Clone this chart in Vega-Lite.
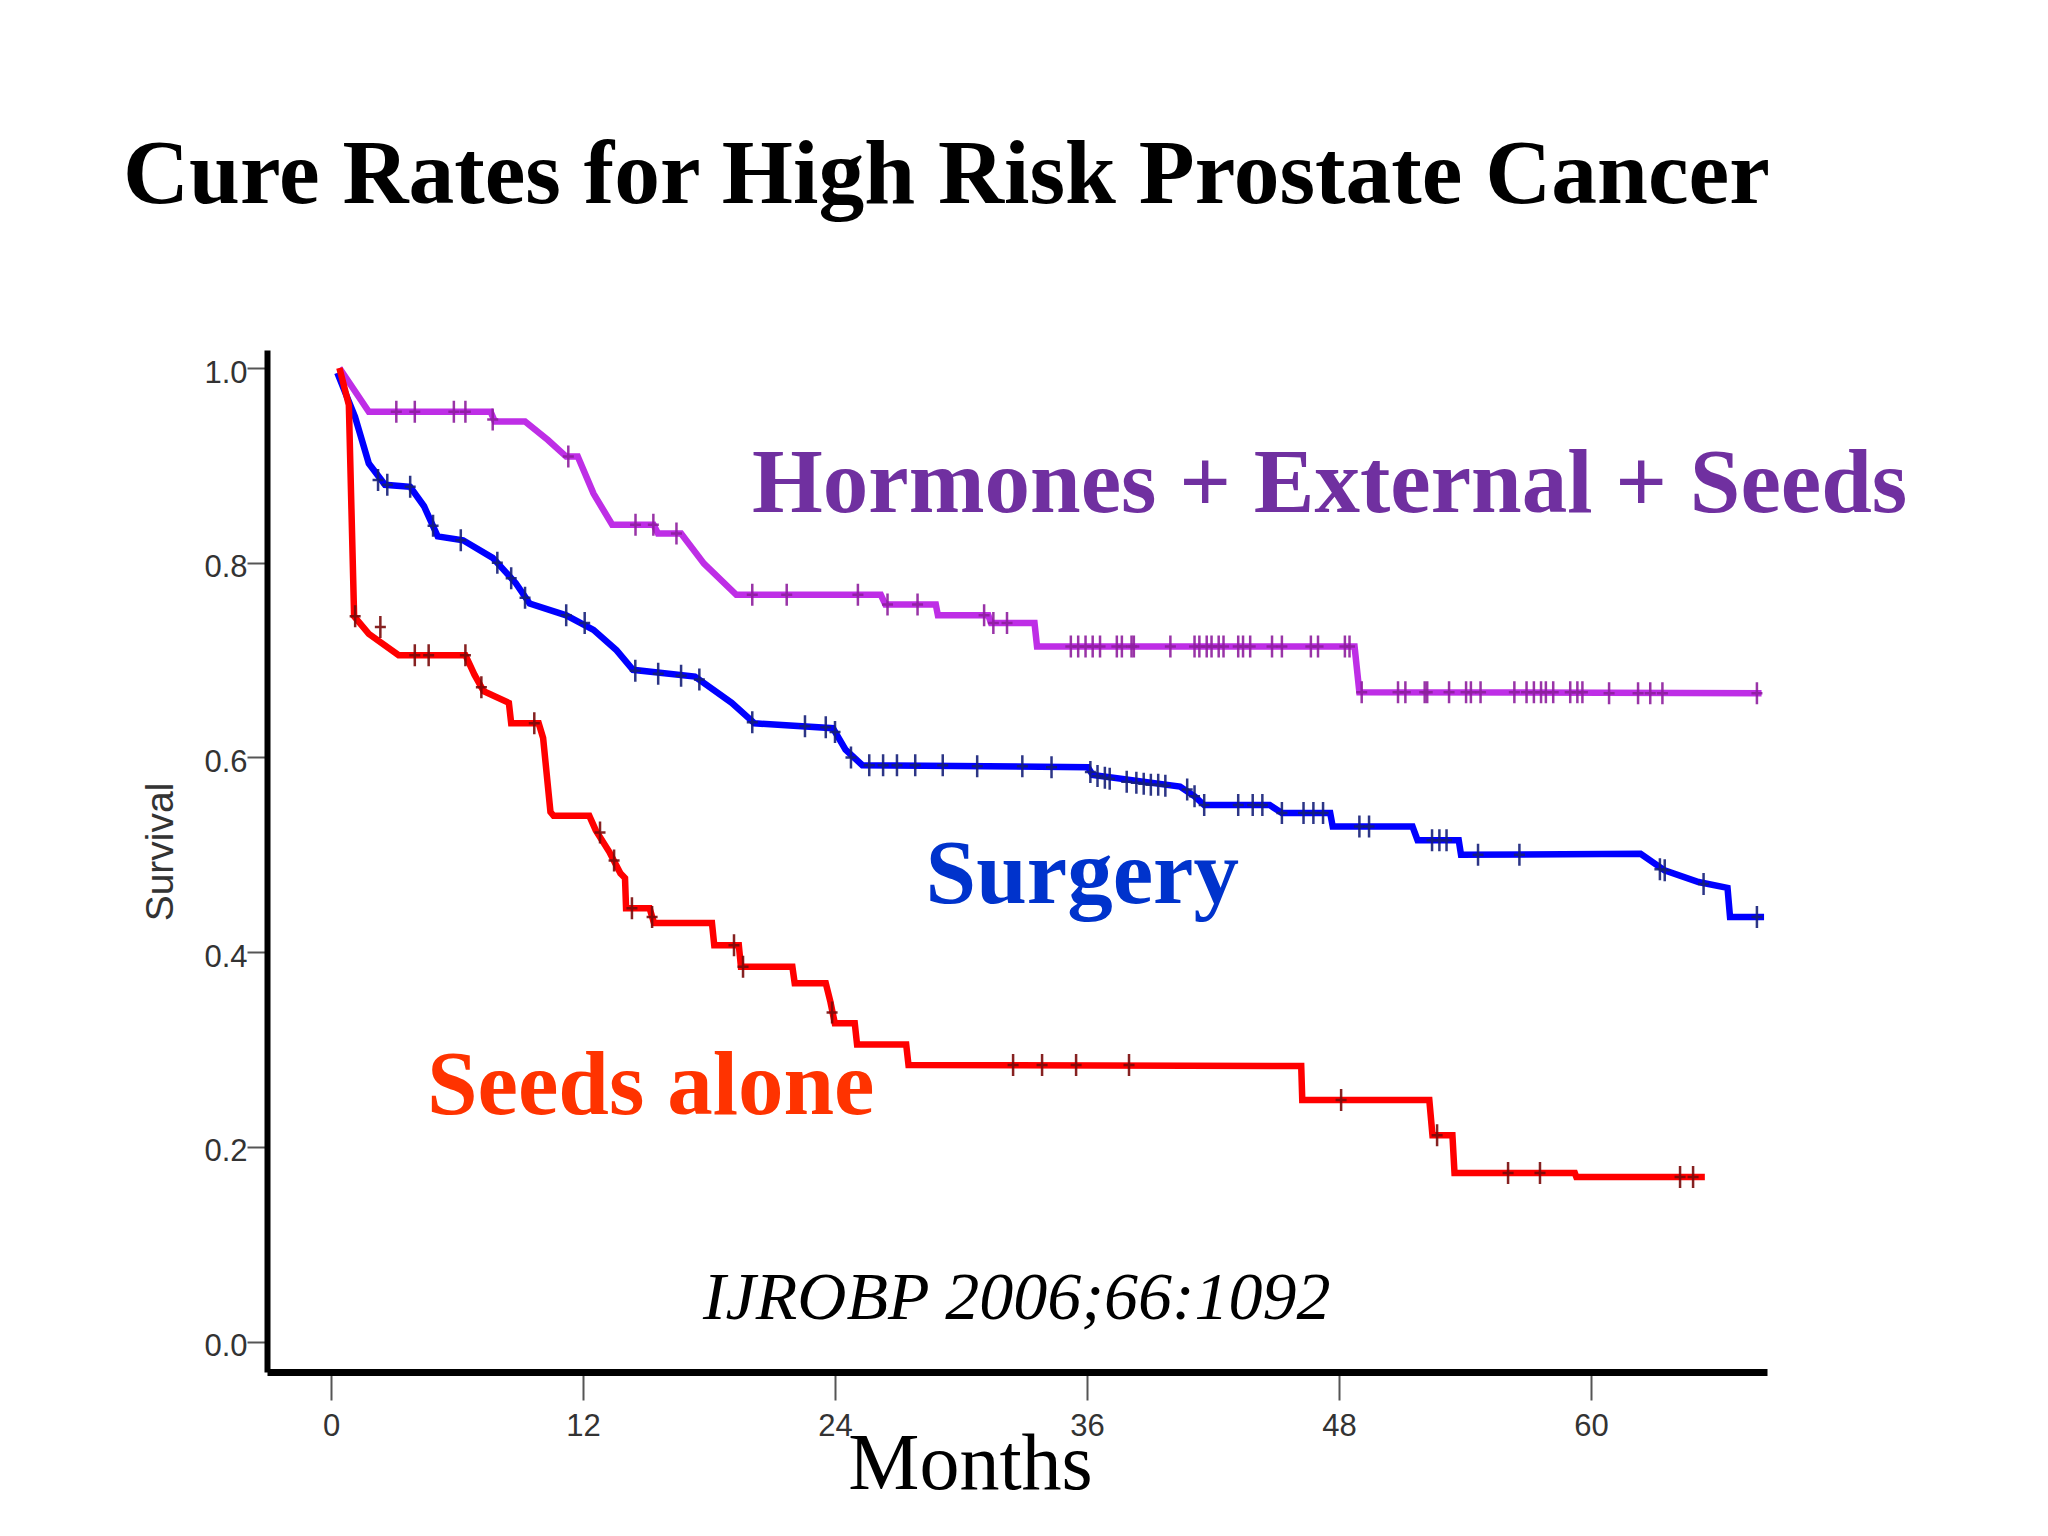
{
  "$schema": "https://vega.github.io/schema/vega-lite/v6.json",
  "description": "Kaplan-Meier style survival curves, high risk prostate cancer (IJROBP 2006;66:1092)",
  "width": 1500,
  "height": 1022,
  "autosize": {"type": "none"},
  "padding": {"left": 267, "top": 350, "right": 281, "bottom": 164},
  "background": "white",
  "title": {
    "text": "Cure Rates for High Risk Prostate Cancer",
    "anchor": "start",
    "frame": "group",
    "font": "Liberation Serif",
    "fontSize": 91.5,
    "fontWeight": "bold",
    "color": "black",
    "baseline": "alphabetic",
    "offset": 56,
    "dx": -144
  },
  "config": {
    "view": {"stroke": null},
    "axis": {"grid": false}
  },
  "datasets": {
    "curves": [
      {"group": "Hormones + External + Seeds", "k": 1, "month": 0.4, "surv": 1.0},
      {"group": "Hormones + External + Seeds", "k": 2, "month": 1.8, "surv": 0.955},
      {"group": "Hormones + External + Seeds", "k": 3, "month": 7.6, "surv": 0.955},
      {"group": "Hormones + External + Seeds", "k": 4, "month": 7.8, "surv": 0.945},
      {"group": "Hormones + External + Seeds", "k": 5, "month": 9.24, "surv": 0.945},
      {"group": "Hormones + External + Seeds", "k": 6, "month": 10.33, "surv": 0.926},
      {"group": "Hormones + External + Seeds", "k": 7, "month": 11.2, "surv": 0.909},
      {"group": "Hormones + External + Seeds", "k": 8, "month": 11.75, "surv": 0.909},
      {"group": "Hormones + External + Seeds", "k": 9, "month": 12.5, "surv": 0.871},
      {"group": "Hormones + External + Seeds", "k": 10, "month": 13.39, "surv": 0.839},
      {"group": "Hormones + External + Seeds", "k": 11, "month": 15.36, "surv": 0.839},
      {"group": "Hormones + External + Seeds", "k": 12, "month": 15.57, "surv": 0.83},
      {"group": "Hormones + External + Seeds", "k": 13, "month": 16.67, "surv": 0.83},
      {"group": "Hormones + External + Seeds", "k": 14, "month": 17.76, "surv": 0.799},
      {"group": "Hormones + External + Seeds", "k": 15, "month": 19.3, "surv": 0.767},
      {"group": "Hormones + External + Seeds", "k": 16, "month": 26.18, "surv": 0.767},
      {"group": "Hormones + External + Seeds", "k": 17, "month": 26.4, "surv": 0.757},
      {"group": "Hormones + External + Seeds", "k": 18, "month": 28.8, "surv": 0.757},
      {"group": "Hormones + External + Seeds", "k": 19, "month": 28.9, "surv": 0.746},
      {"group": "Hormones + External + Seeds", "k": 20, "month": 31.3, "surv": 0.746},
      {"group": "Hormones + External + Seeds", "k": 21, "month": 31.43, "surv": 0.738},
      {"group": "Hormones + External + Seeds", "k": 22, "month": 33.5, "surv": 0.738},
      {"group": "Hormones + External + Seeds", "k": 23, "month": 33.62, "surv": 0.714},
      {"group": "Hormones + External + Seeds", "k": 24, "month": 48.74, "surv": 0.714},
      {"group": "Hormones + External + Seeds", "k": 25, "month": 48.97, "surv": 0.667},
      {"group": "Hormones + External + Seeds", "k": 26, "month": 68.12, "surv": 0.666},

      {"group": "Surgery", "k": 1, "month": 0.3, "surv": 0.995},
      {"group": "Surgery", "k": 2, "month": 1.14, "surv": 0.95},
      {"group": "Surgery", "k": 3, "month": 1.8, "surv": 0.902},
      {"group": "Surgery", "k": 4, "month": 2.57, "surv": 0.88},
      {"group": "Surgery", "k": 5, "month": 3.77, "surv": 0.878},
      {"group": "Surgery", "k": 6, "month": 4.43, "surv": 0.858},
      {"group": "Surgery", "k": 7, "month": 5.08, "surv": 0.827},
      {"group": "Surgery", "k": 8, "month": 6.29, "surv": 0.823},
      {"group": "Surgery", "k": 9, "month": 7.7, "surv": 0.805},
      {"group": "Surgery", "k": 10, "month": 8.8, "surv": 0.779},
      {"group": "Surgery", "k": 11, "month": 9.46, "surv": 0.758},
      {"group": "Surgery", "k": 12, "month": 11.2, "surv": 0.746},
      {"group": "Surgery", "k": 13, "month": 12.5, "surv": 0.731},
      {"group": "Surgery", "k": 14, "month": 13.6, "surv": 0.71},
      {"group": "Surgery", "k": 15, "month": 14.38, "surv": 0.69},
      {"group": "Surgery", "k": 16, "month": 17.33, "surv": 0.683},
      {"group": "Surgery", "k": 17, "month": 19.08, "surv": 0.656},
      {"group": "Surgery", "k": 18, "month": 20.17, "surv": 0.635},
      {"group": "Surgery", "k": 19, "month": 23.9, "surv": 0.63},
      {"group": "Surgery", "k": 20, "month": 24.5, "surv": 0.608},
      {"group": "Surgery", "k": 21, "month": 25.3, "surv": 0.592},
      {"group": "Surgery", "k": 22, "month": 36.04, "surv": 0.59},
      {"group": "Surgery", "k": 23, "month": 36.27, "surv": 0.582},
      {"group": "Surgery", "k": 24, "month": 40.43, "surv": 0.57},
      {"group": "Surgery", "k": 25, "month": 41.12, "surv": 0.56},
      {"group": "Surgery", "k": 26, "month": 41.58, "surv": 0.551},
      {"group": "Surgery", "k": 27, "month": 44.7, "surv": 0.551},
      {"group": "Surgery", "k": 28, "month": 45.28, "surv": 0.543},
      {"group": "Surgery", "k": 29, "month": 47.58, "surv": 0.543},
      {"group": "Surgery", "k": 30, "month": 47.7, "surv": 0.529},
      {"group": "Surgery", "k": 31, "month": 51.5, "surv": 0.529},
      {"group": "Surgery", "k": 32, "month": 51.74, "surv": 0.515},
      {"group": "Surgery", "k": 33, "month": 53.7, "surv": 0.515},
      {"group": "Surgery", "k": 34, "month": 53.81, "surv": 0.5},
      {"group": "Surgery", "k": 35, "month": 62.36, "surv": 0.501},
      {"group": "Surgery", "k": 36, "month": 63.5, "surv": 0.484},
      {"group": "Surgery", "k": 37, "month": 65.12, "surv": 0.472},
      {"group": "Surgery", "k": 38, "month": 66.5, "surv": 0.466},
      {"group": "Surgery", "k": 39, "month": 66.62, "surv": 0.436},
      {"group": "Surgery", "k": 40, "month": 68.24, "surv": 0.436},

      {"group": "Seeds alone", "k": 1, "month": 0.4, "surv": 1.0},
      {"group": "Seeds alone", "k": 2, "month": 0.85, "surv": 0.962},
      {"group": "Seeds alone", "k": 3, "month": 1.1, "surv": 0.745},
      {"group": "Seeds alone", "k": 4, "month": 1.8, "surv": 0.727},
      {"group": "Seeds alone", "k": 5, "month": 3.22, "surv": 0.705},
      {"group": "Seeds alone", "k": 6, "month": 6.4, "surv": 0.705},
      {"group": "Seeds alone", "k": 7, "month": 6.83, "surv": 0.685},
      {"group": "Seeds alone", "k": 8, "month": 7.27, "surv": 0.668},
      {"group": "Seeds alone", "k": 9, "month": 8.47, "surv": 0.656},
      {"group": "Seeds alone", "k": 10, "month": 8.58, "surv": 0.635},
      {"group": "Seeds alone", "k": 11, "month": 9.89, "surv": 0.635},
      {"group": "Seeds alone", "k": 12, "month": 10.1, "surv": 0.62},
      {"group": "Seeds alone", "k": 13, "month": 10.45, "surv": 0.544},
      {"group": "Seeds alone", "k": 14, "month": 10.6, "surv": 0.54},
      {"group": "Seeds alone", "k": 15, "month": 12.3, "surv": 0.54},
      {"group": "Seeds alone", "k": 16, "month": 12.61, "surv": 0.525},
      {"group": "Seeds alone", "k": 17, "month": 13.25, "surv": 0.503},
      {"group": "Seeds alone", "k": 18, "month": 13.78, "surv": 0.481},
      {"group": "Seeds alone", "k": 19, "month": 14.0, "surv": 0.476},
      {"group": "Seeds alone", "k": 20, "month": 14.05, "surv": 0.445},
      {"group": "Seeds alone", "k": 21, "month": 15.17, "surv": 0.445},
      {"group": "Seeds alone", "k": 22, "month": 15.38, "surv": 0.43},
      {"group": "Seeds alone", "k": 23, "month": 18.14, "surv": 0.43},
      {"group": "Seeds alone", "k": 24, "month": 18.25, "surv": 0.407},
      {"group": "Seeds alone", "k": 25, "month": 19.42, "surv": 0.407},
      {"group": "Seeds alone", "k": 26, "month": 19.52, "surv": 0.385},
      {"group": "Seeds alone", "k": 27, "month": 21.97, "surv": 0.385},
      {"group": "Seeds alone", "k": 28, "month": 22.08, "surv": 0.368},
      {"group": "Seeds alone", "k": 29, "month": 23.56, "surv": 0.368},
      {"group": "Seeds alone", "k": 30, "month": 23.78, "surv": 0.349},
      {"group": "Seeds alone", "k": 31, "month": 23.99, "surv": 0.327},
      {"group": "Seeds alone", "k": 32, "month": 24.94, "surv": 0.327},
      {"group": "Seeds alone", "k": 33, "month": 25.05, "surv": 0.305},
      {"group": "Seeds alone", "k": 34, "month": 27.39, "surv": 0.305},
      {"group": "Seeds alone", "k": 35, "month": 27.5, "surv": 0.284},
      {"group": "Seeds alone", "k": 36, "month": 46.2, "surv": 0.283},
      {"group": "Seeds alone", "k": 37, "month": 46.25, "surv": 0.248},
      {"group": "Seeds alone", "k": 38, "month": 52.3, "surv": 0.248},
      {"group": "Seeds alone", "k": 39, "month": 52.45, "surv": 0.212},
      {"group": "Seeds alone", "k": 40, "month": 53.4, "surv": 0.212},
      {"group": "Seeds alone", "k": 41, "month": 53.5, "surv": 0.173},
      {"group": "Seeds alone", "k": 42, "month": 59.23, "surv": 0.173},
      {"group": "Seeds alone", "k": 43, "month": 59.3, "surv": 0.169},
      {"group": "Seeds alone", "k": 44, "month": 65.42, "surv": 0.169}
    ],
    "censor": [
      {"group": "Hormones + External + Seeds", "month": 3.11, "surv": 0.955},
      {"group": "Hormones + External + Seeds", "month": 3.99, "surv": 0.955},
      {"group": "Hormones + External + Seeds", "month": 5.85, "surv": 0.955},
      {"group": "Hormones + External + Seeds", "month": 6.4, "surv": 0.955},
      {"group": "Hormones + External + Seeds", "month": 7.7, "surv": 0.947},
      {"group": "Hormones + External + Seeds", "month": 11.3, "surv": 0.909},
      {"group": "Hormones + External + Seeds", "month": 14.5, "surv": 0.839},
      {"group": "Hormones + External + Seeds", "month": 15.35, "surv": 0.839},
      {"group": "Hormones + External + Seeds", "month": 16.45, "surv": 0.83},
      {"group": "Hormones + External + Seeds", "month": 20.06, "surv": 0.767},
      {"group": "Hormones + External + Seeds", "month": 21.7, "surv": 0.767},
      {"group": "Hormones + External + Seeds", "month": 25.09, "surv": 0.767},
      {"group": "Hormones + External + Seeds", "month": 26.5, "surv": 0.757},
      {"group": "Hormones + External + Seeds", "month": 27.93, "surv": 0.757},
      {"group": "Hormones + External + Seeds", "month": 31.1, "surv": 0.746},
      {"group": "Hormones + External + Seeds", "month": 31.54, "surv": 0.738},
      {"group": "Hormones + External + Seeds", "month": 32.19, "surv": 0.738},
      {"group": "Hormones + External + Seeds", "month": 35.23, "surv": 0.714},
      {"group": "Hormones + External + Seeds", "month": 35.58, "surv": 0.714},
      {"group": "Hormones + External + Seeds", "month": 35.93, "surv": 0.714},
      {"group": "Hormones + External + Seeds", "month": 36.27, "surv": 0.714},
      {"group": "Hormones + External + Seeds", "month": 36.62, "surv": 0.714},
      {"group": "Hormones + External + Seeds", "month": 37.42, "surv": 0.714},
      {"group": "Hormones + External + Seeds", "month": 37.66, "surv": 0.714},
      {"group": "Hormones + External + Seeds", "month": 38.12, "surv": 0.714},
      {"group": "Hormones + External + Seeds", "month": 38.23, "surv": 0.714},
      {"group": "Hormones + External + Seeds", "month": 39.97, "surv": 0.714},
      {"group": "Hormones + External + Seeds", "month": 41.12, "surv": 0.714},
      {"group": "Hormones + External + Seeds", "month": 41.35, "surv": 0.714},
      {"group": "Hormones + External + Seeds", "month": 41.7, "surv": 0.714},
      {"group": "Hormones + External + Seeds", "month": 41.93, "surv": 0.714},
      {"group": "Hormones + External + Seeds", "month": 42.27, "surv": 0.714},
      {"group": "Hormones + External + Seeds", "month": 42.5, "surv": 0.714},
      {"group": "Hormones + External + Seeds", "month": 43.2, "surv": 0.714},
      {"group": "Hormones + External + Seeds", "month": 43.43, "surv": 0.714},
      {"group": "Hormones + External + Seeds", "month": 43.77, "surv": 0.714},
      {"group": "Hormones + External + Seeds", "month": 44.81, "surv": 0.714},
      {"group": "Hormones + External + Seeds", "month": 45.28, "surv": 0.714},
      {"group": "Hormones + External + Seeds", "month": 46.66, "surv": 0.714},
      {"group": "Hormones + External + Seeds", "month": 47.0, "surv": 0.714},
      {"group": "Hormones + External + Seeds", "month": 48.28, "surv": 0.714},
      {"group": "Hormones + External + Seeds", "month": 48.5, "surv": 0.714},
      {"group": "Hormones + External + Seeds", "month": 49.08, "surv": 0.667},
      {"group": "Hormones + External + Seeds", "month": 50.81, "surv": 0.667},
      {"group": "Hormones + External + Seeds", "month": 51.16, "surv": 0.667},
      {"group": "Hormones + External + Seeds", "month": 52.08, "surv": 0.667},
      {"group": "Hormones + External + Seeds", "month": 52.2, "surv": 0.667},
      {"group": "Hormones + External + Seeds", "month": 53.24, "surv": 0.667},
      {"group": "Hormones + External + Seeds", "month": 54.05, "surv": 0.667},
      {"group": "Hormones + External + Seeds", "month": 54.28, "surv": 0.667},
      {"group": "Hormones + External + Seeds", "month": 54.74, "surv": 0.667},
      {"group": "Hormones + External + Seeds", "month": 56.35, "surv": 0.667},
      {"group": "Hormones + External + Seeds", "month": 56.93, "surv": 0.667},
      {"group": "Hormones + External + Seeds", "month": 57.28, "surv": 0.667},
      {"group": "Hormones + External + Seeds", "month": 57.62, "surv": 0.667},
      {"group": "Hormones + External + Seeds", "month": 57.85, "surv": 0.667},
      {"group": "Hormones + External + Seeds", "month": 58.2, "surv": 0.667},
      {"group": "Hormones + External + Seeds", "month": 59.01, "surv": 0.667},
      {"group": "Hormones + External + Seeds", "month": 59.35, "surv": 0.667},
      {"group": "Hormones + External + Seeds", "month": 59.59, "surv": 0.667},
      {"group": "Hormones + External + Seeds", "month": 60.86, "surv": 0.666},
      {"group": "Hormones + External + Seeds", "month": 62.24, "surv": 0.666},
      {"group": "Hormones + External + Seeds", "month": 62.82, "surv": 0.666},
      {"group": "Hormones + External + Seeds", "month": 63.4, "surv": 0.666},
      {"group": "Hormones + External + Seeds", "month": 67.9, "surv": 0.666},

      {"group": "Surgery", "month": 2.24, "surv": 0.885},
      {"group": "Surgery", "month": 2.68, "surv": 0.88},
      {"group": "Surgery", "month": 3.77, "surv": 0.878},
      {"group": "Surgery", "month": 4.86, "surv": 0.838},
      {"group": "Surgery", "month": 6.18, "surv": 0.823},
      {"group": "Surgery", "month": 7.92, "surv": 0.8},
      {"group": "Surgery", "month": 8.58, "surv": 0.784},
      {"group": "Surgery", "month": 9.24, "surv": 0.764},
      {"group": "Surgery", "month": 11.2, "surv": 0.746},
      {"group": "Surgery", "month": 12.08, "surv": 0.738},
      {"group": "Surgery", "month": 14.49, "surv": 0.689},
      {"group": "Surgery", "month": 15.58, "surv": 0.686},
      {"group": "Surgery", "month": 16.67, "surv": 0.684},
      {"group": "Surgery", "month": 17.54, "surv": 0.68},
      {"group": "Surgery", "month": 20.06, "surv": 0.636},
      {"group": "Surgery", "month": 22.57, "surv": 0.632},
      {"group": "Surgery", "month": 23.56, "surv": 0.631},
      {"group": "Surgery", "month": 24.0, "surv": 0.626},
      {"group": "Surgery", "month": 24.76, "surv": 0.6},
      {"group": "Surgery", "month": 25.63, "surv": 0.592},
      {"group": "Surgery", "month": 26.29, "surv": 0.592},
      {"group": "Surgery", "month": 26.95, "surv": 0.592},
      {"group": "Surgery", "month": 27.82, "surv": 0.592},
      {"group": "Surgery", "month": 29.13, "surv": 0.592},
      {"group": "Surgery", "month": 30.77, "surv": 0.591},
      {"group": "Surgery", "month": 32.92, "surv": 0.591},
      {"group": "Surgery", "month": 34.31, "surv": 0.59},
      {"group": "Surgery", "month": 36.16, "surv": 0.585},
      {"group": "Surgery", "month": 36.5, "surv": 0.581},
      {"group": "Surgery", "month": 36.85, "surv": 0.579},
      {"group": "Surgery", "month": 37.08, "surv": 0.578},
      {"group": "Surgery", "month": 37.89, "surv": 0.575},
      {"group": "Surgery", "month": 38.35, "surv": 0.574},
      {"group": "Surgery", "month": 38.7, "surv": 0.573},
      {"group": "Surgery", "month": 39.04, "surv": 0.572},
      {"group": "Surgery", "month": 39.39, "surv": 0.572},
      {"group": "Surgery", "month": 39.73, "surv": 0.571},
      {"group": "Surgery", "month": 40.77, "surv": 0.567},
      {"group": "Surgery", "month": 41.12, "surv": 0.56},
      {"group": "Surgery", "month": 41.58, "surv": 0.551},
      {"group": "Surgery", "month": 43.2, "surv": 0.551},
      {"group": "Surgery", "month": 43.89, "surv": 0.551},
      {"group": "Surgery", "month": 44.35, "surv": 0.551},
      {"group": "Surgery", "month": 45.28, "surv": 0.543},
      {"group": "Surgery", "month": 46.31, "surv": 0.543},
      {"group": "Surgery", "month": 46.78, "surv": 0.543},
      {"group": "Surgery", "month": 47.24, "surv": 0.543},
      {"group": "Surgery", "month": 48.97, "surv": 0.529},
      {"group": "Surgery", "month": 49.43, "surv": 0.529},
      {"group": "Surgery", "month": 52.43, "surv": 0.515},
      {"group": "Surgery", "month": 52.78, "surv": 0.515},
      {"group": "Surgery", "month": 53.12, "surv": 0.515},
      {"group": "Surgery", "month": 54.62, "surv": 0.5},
      {"group": "Surgery", "month": 56.59, "surv": 0.5},
      {"group": "Surgery", "month": 63.28, "surv": 0.485},
      {"group": "Surgery", "month": 63.51, "surv": 0.484},
      {"group": "Surgery", "month": 65.36, "surv": 0.47},
      {"group": "Surgery", "month": 67.9, "surv": 0.436},

      {"group": "Seeds alone", "month": 1.15, "surv": 0.745},
      {"group": "Seeds alone", "month": 2.35, "surv": 0.734},
      {"group": "Seeds alone", "month": 3.99, "surv": 0.705},
      {"group": "Seeds alone", "month": 4.65, "surv": 0.705},
      {"group": "Seeds alone", "month": 6.4, "surv": 0.705},
      {"group": "Seeds alone", "month": 7.16, "surv": 0.672},
      {"group": "Seeds alone", "month": 9.68, "surv": 0.635},
      {"group": "Seeds alone", "month": 12.81, "surv": 0.523},
      {"group": "Seeds alone", "month": 13.48, "surv": 0.494},
      {"group": "Seeds alone", "month": 14.33, "surv": 0.445},
      {"group": "Seeds alone", "month": 15.29, "surv": 0.436},
      {"group": "Seeds alone", "month": 19.19, "surv": 0.407},
      {"group": "Seeds alone", "month": 19.62, "surv": 0.385},
      {"group": "Seeds alone", "month": 23.86, "surv": 0.338},
      {"group": "Seeds alone", "month": 32.48, "surv": 0.284},
      {"group": "Seeds alone", "month": 33.86, "surv": 0.284},
      {"group": "Seeds alone", "month": 35.48, "surv": 0.284},
      {"group": "Seeds alone", "month": 38.0, "surv": 0.284},
      {"group": "Seeds alone", "month": 48.1, "surv": 0.248},
      {"group": "Seeds alone", "month": 52.67, "surv": 0.212},
      {"group": "Seeds alone", "month": 56.05, "surv": 0.173},
      {"group": "Seeds alone", "month": 57.57, "surv": 0.173},
      {"group": "Seeds alone", "month": 64.24, "surv": 0.169},
      {"group": "Seeds alone", "month": 64.86, "surv": 0.169}
    ],
    "labels": [
      {"label": "Hormones + External + Seeds", "month": 20.05, "surv": 0.852},
      {"label": "Surgery", "month": 28.31, "surv": 0.45},
      {"label": "Seeds alone", "month": 4.57, "surv": 0.2336}
    ],
    "source": [
      {"label": "IJROBP 2006;66:1092", "month": 17.71, "surv": 0.0231}
    ]
  },
  "encoding": {
    "x": {
      "field": "month",
      "type": "quantitative",
      "scale": {"domain": [-3.048, 68.38], "nice": false, "zero": false},
      "axis": {
        "values": [0, 12, 24, 36, 48, 60],
        "title": "Months",
        "titleFont": "Liberation Serif",
        "titleFontSize": 80,
        "titleFontWeight": "normal",
        "titleColor": "black",
        "titleX": 703,
        "titleY": 116,
        "titleAlign": "center",
        "titleBaseline": "alphabetic",
        "domainColor": "black",
        "domainWidth": 7,
        "tickColor": "#555555",
        "tickWidth": 2,
        "tickSize": 28,
        "labelFont": "Liberation Sans",
        "labelFontSize": 31,
        "labelColor": "#333333",
        "labelBaseline": "alphabetic",
        "labelPadding": 35,
        "labelFlush": false
      }
    },
    "y": {
      "field": "surv",
      "type": "quantitative",
      "scale": {"domain": [-0.0313, 1.0185], "nice": false, "zero": false},
      "axis": {
        "values": [0, 0.2, 0.4, 0.6, 0.8, 1.0],
        "format": ".1f",
        "title": "Survival",
        "titleFont": "Liberation Sans",
        "titleFontSize": 39,
        "titleFontWeight": "normal",
        "titleColor": "#333333",
        "titleAngle": 270,
        "titleX": -95,
        "titleY": 501.5,
        "titleAlign": "center",
        "titleBaseline": "alphabetic",
        "domainColor": "black",
        "domainWidth": 6,
        "tickColor": "#555555",
        "tickWidth": 2,
        "tickSize": 20,
        "labelFont": "Liberation Sans",
        "labelFontSize": 31,
        "labelColor": "#333333",
        "labelPadding": 0,
        "labelOffset": 5,
        "labelFlush": false
      }
    }
  },
  "layer": [
    {
      "data": {"name": "curves"},
      "mark": {"type": "line", "strokeWidth": 6.5, "strokeJoin": "miter"},
      "encoding": {
        "color": {
          "field": "group",
          "type": "nominal",
          "scale": {
            "domain": ["Hormones + External + Seeds", "Surgery", "Seeds alone"],
            "range": ["#BE2EE6", "#0000FF", "#FF0000"]
          },
          "legend": null
        },
        "order": {"field": "k", "type": "quantitative"}
      }
    },
    {
      "data": {"name": "censor"},
      "mark": {
        "type": "point",
        "shape": "M0,-1L0,1M-0.5,0L0.5,0",
        "size": 484,
        "filled": false,
        "strokeWidth": 2.5,
        "opacity": 0.9
      },
      "encoding": {
        "stroke": {
          "field": "group",
          "type": "nominal",
          "scale": {
            "domain": ["Hormones + External + Seeds", "Surgery", "Seeds alone"],
            "range": ["#8E1F9E", "#16207A", "#7A0A0A"]
          },
          "legend": null
        }
      }
    },
    {
      "data": {"name": "labels"},
      "mark": {
        "type": "text",
        "font": "Liberation Serif",
        "fontSize": 91,
        "fontWeight": "bold",
        "align": "left",
        "baseline": "alphabetic"
      },
      "encoding": {
        "text": {"field": "label"},
        "fill": {
          "field": "label",
          "type": "nominal",
          "scale": {
            "domain": ["Hormones + External + Seeds", "Surgery", "Seeds alone"],
            "range": ["#7030A0", "#0033CC", "#FF3300"]
          },
          "legend": null
        }
      }
    },
    {
      "data": {"name": "source"},
      "mark": {
        "type": "text",
        "font": "Liberation Serif",
        "fontSize": 68,
        "fontStyle": "italic",
        "align": "left",
        "baseline": "alphabetic",
        "color": "black"
      },
      "encoding": {
        "text": {"field": "label"}
      }
    }
  ]
}
